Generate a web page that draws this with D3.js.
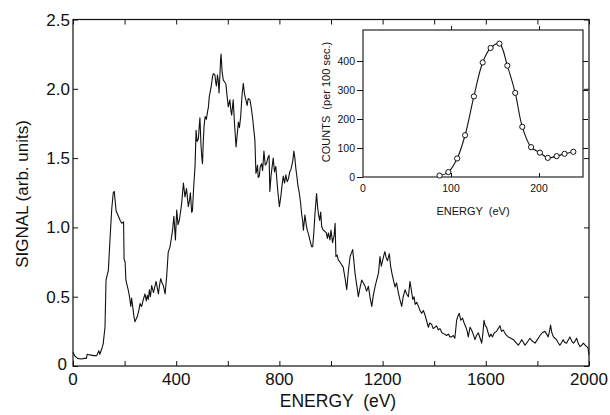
<!DOCTYPE html>
<html>
<head>
<meta charset="utf-8">
<script src="https://cdn.jsdelivr.net/npm/d3@7"></script>
<style>
  body { margin: 0; background: #fff; }
  text { font-family: "Liberation Sans", Arial, sans-serif; fill: #111; white-space: pre; }
</style>
</head>
<body>
<div id="chart"></div>
<script>
const width = 610
const height = 415

// main spectrum
const energy = [0, 8, 18, 30, 45, 52, 55, 65, 80, 92, 100, 104, 110, 117, 124, 128, 137, 143, 150, 156, 160, 164, 167, 176, 183, 189, 196, 198, 202, 205, 210, 214, 219, 224, 227, 230, 236, 240, 249, 255, 260, 266, 272, 279, 284, 288, 292, 296, 300, 305, 312, 317, 322, 327, 331, 336, 340, 345, 350, 357, 363, 369, 376, 381, 386, 391, 397, 402, 407, 412, 416, 421, 428, 434, 440, 447, 452, 455, 460, 463, 468, 473, 477, 481, 486, 489, 492, 496, 499, 502, 505, 508, 512, 517, 521, 525, 528, 531, 536, 541, 544, 550, 553, 556, 560, 563, 566, 569, 572, 574, 578, 583, 588, 593, 597, 602, 608, 612, 615, 621, 626, 632, 637, 641, 645, 650, 655, 660, 665, 670, 675, 679, 686, 692, 697, 701, 705, 709, 712, 715, 718, 722, 726, 731, 735, 740, 745, 750, 755, 760, 763, 768, 772, 776, 781, 786, 792, 796, 800, 806, 810, 815, 820, 825, 830, 835, 840, 845, 852, 856, 860, 864, 867, 872, 877, 882, 886, 890, 893, 899, 904, 908, 913, 918, 925, 929, 933, 938, 944, 948, 951, 956, 960, 964, 970, 977, 982, 986, 990, 996, 1000, 1006, 1012, 1016, 1019, 1024, 1028, 1035, 1041, 1047, 1054, 1061, 1067, 1074, 1080, 1084, 1089, 1093, 1100, 1106, 1112, 1119, 1125, 1132, 1138, 1145, 1151, 1158, 1164, 1171, 1177, 1184, 1190, 1195, 1200, 1205, 1209, 1214, 1219, 1226, 1231, 1236, 1242, 1248, 1254, 1261, 1267, 1274, 1280, 1287, 1293, 1300, 1306, 1312, 1317, 1322, 1326, 1332, 1339, 1345, 1351, 1358, 1364, 1370, 1377, 1383, 1390, 1396, 1403, 1409, 1416, 1422, 1430, 1440, 1448, 1455, 1461, 1467, 1474, 1480, 1487, 1492, 1497, 1503, 1510, 1516, 1523, 1528, 1532, 1539, 1545, 1551, 1558, 1564, 1571, 1578, 1584, 1589, 1593, 1598, 1603, 1609, 1614, 1620, 1626, 1633, 1642, 1648, 1655, 1661, 1668, 1676, 1687, 1697, 1707, 1716, 1726, 1733, 1739, 1746, 1752, 1760, 1771, 1780, 1791, 1800, 1810, 1819, 1829, 1836, 1842, 1848, 1851, 1856, 1862, 1868, 1874, 1880, 1887, 1894, 1900, 1906, 1913, 1920, 1926, 1933, 1940, 1946, 1952, 1959, 1965, 1972, 1978, 1985, 1992, 1996, 2000]
const signal = [0.10, 0.07, 0.055, 0.05, 0.055, 0.055, 0.085, 0.08, 0.075, 0.075, 0.11, 0.085, 0.115, 0.16, 0.28, 0.62, 0.69, 0.90, 1.13, 1.25, 1.26, 1.18, 1.12, 1.08, 1.05, 1.03, 1.04, 0.77, 0.75, 0.62, 0.58, 0.55, 0.50, 0.43, 0.49, 0.45, 0.36, 0.32, 0.355, 0.40, 0.45, 0.43, 0.476, 0.52, 0.47, 0.51, 0.48, 0.55, 0.50, 0.58, 0.53, 0.57, 0.61, 0.56, 0.52, 0.59, 0.63, 0.60, 0.58, 0.52, 0.645, 0.82, 0.86, 0.92, 0.98, 1.08, 0.91, 1.125, 1.02, 1.05, 1.10, 1.17, 1.32, 1.22, 1.28, 1.15, 1.20, 1.25, 1.11, 1.12, 1.30, 1.44, 1.70, 1.62, 1.64, 1.72, 1.79, 1.60, 1.51, 1.46, 1.62, 1.73, 1.80, 1.78, 1.83, 1.87, 1.94, 1.97, 2.02, 2.09, 2.11, 2.10, 2.05, 2.02, 2.10, 2.06, 1.97, 2.08, 2.21, 2.25, 2.12, 2.06, 2.05, 2.03, 1.95, 1.87, 1.92, 1.84, 1.81, 1.92, 1.75, 1.58, 1.68, 1.76, 1.72, 1.80, 1.95, 2.04, 1.96, 1.92, 1.88, 1.93, 1.92, 1.85, 1.775, 1.70, 1.63, 1.39, 1.41, 1.45, 1.36, 1.37, 1.44, 1.46, 1.41, 1.55, 1.45, 1.46, 1.50, 1.52, 1.26, 1.38, 1.44, 1.50, 1.40, 1.44, 1.30, 1.22, 1.15, 1.23, 1.30, 1.37, 1.32, 1.38, 1.33, 1.35, 1.40, 1.42, 1.48, 1.55, 1.50, 1.42, 1.38, 1.30, 1.25, 1.18, 1.10, 1.05, 0.98, 1.09, 1.02, 0.98, 0.95, 0.91, 0.86, 0.86, 0.95, 1.10, 1.245, 1.15, 1.10, 1.05, 1.11, 1.005, 0.98, 0.97, 0.96, 0.92, 0.96, 0.91, 0.98, 0.89, 0.94, 1.03, 0.79, 0.80, 0.765, 0.75, 0.73, 0.715, 0.64, 0.55, 0.68, 0.79, 0.82, 0.84, 0.75, 0.67, 0.58, 0.50, 0.56, 0.62, 0.60, 0.575, 0.54, 0.575, 0.50, 0.43, 0.51, 0.575, 0.62, 0.67, 0.79, 0.72, 0.76, 0.80, 0.825, 0.78, 0.76, 0.81, 0.72, 0.67, 0.62, 0.57, 0.60, 0.53, 0.48, 0.43, 0.50, 0.55, 0.52, 0.50, 0.61, 0.54, 0.48, 0.50, 0.445, 0.46, 0.43, 0.40, 0.38, 0.40, 0.37, 0.33, 0.28, 0.31, 0.30, 0.27, 0.28, 0.29, 0.26, 0.27, 0.24, 0.23, 0.22, 0.23, 0.21, 0.21, 0.22, 0.20, 0.33, 0.36, 0.38, 0.33, 0.345, 0.31, 0.28, 0.25, 0.21, 0.28, 0.26, 0.23, 0.19, 0.22, 0.24, 0.20, 0.165, 0.24, 0.33, 0.29, 0.28, 0.24, 0.21, 0.23, 0.21, 0.24, 0.25, 0.27, 0.29, 0.25, 0.26, 0.23, 0.21, 0.20, 0.19, 0.17, 0.15, 0.17, 0.19, 0.17, 0.15, 0.17, 0.20, 0.18, 0.165, 0.19, 0.22, 0.24, 0.25, 0.23, 0.21, 0.26, 0.295, 0.24, 0.21, 0.20, 0.19, 0.17, 0.15, 0.17, 0.19, 0.17, 0.165, 0.19, 0.21, 0.18, 0.165, 0.18, 0.20, 0.16, 0.14, 0.15, 0.165, 0.15, 0.14, 0.13, 0.08]

const xTicks = [0, 400, 800, 1200, 1600, 2000]
const yTicks = [0, 0.5, 1.0, 1.5, 2.0, 2.5]

// inset: counts vs energy
const insetEnergy = [87, 97, 107, 116, 126, 136, 145, 155, 164, 173, 181, 191, 201, 210, 220, 229, 239]
const insetCounts = [5, 17, 64, 144, 278, 395, 445, 460, 384, 290, 173, 103, 84, 66, 72, 80, 87]
const insetXTicks = [0, 100, 200]
const insetYTicks = [0, 100, 200, 300, 400]

const svg = d3.select("#chart")
    .append("svg")
    .attr("width", width)
    .attr("height", height)

const pLeft = 73, pRight = 589, pTop = 19.5, pBottom = 366

const x = d3.scaleLinear().domain([0, 2000]).range([pLeft, pRight])
const y = d3.scaleLinear().domain([0, 2.5]).range([pBottom, pTop])

// frame
svg.append("rect")
    .attr("x", pLeft).attr("y", pTop)
    .attr("width", pRight - pLeft).attr("height", pBottom - pTop)
    .attr("fill", "none").attr("stroke", "#111").attr("stroke-width", 1.2)

// inward ticks on all four sides
const minor = d3.range(0, 2001, 200)
svg.append("g").attr("transform", `translate(0,${pBottom})`)
    .call(d3.axisBottom(x).tickValues(minor).tickSizeInner(-5).tickSizeOuter(0).tickFormat(""))
svg.append("g").attr("transform", `translate(0,${pTop})`)
    .call(d3.axisTop(x).tickValues(minor).tickSizeInner(-5).tickSizeOuter(0).tickFormat(""))
svg.append("g").attr("transform", `translate(${pLeft},0)`)
    .call(d3.axisLeft(y).tickValues(yTicks).tickSizeInner(-5).tickSizeOuter(0).tickFormat(""))
svg.append("g").attr("transform", `translate(${pRight},0)`)
    .call(d3.axisRight(y).tickValues(yTicks).tickSizeInner(-5).tickSizeOuter(0).tickFormat(""))
svg.selectAll(".domain").remove()
svg.selectAll(".tick line").attr("stroke", "#111").attr("stroke-width", 1)

// tick labels
svg.append("g").selectAll("text")
    .data(xTicks)
    .enter().append("text")
    .attr("x", d => x(d))
    .attr("y", pBottom + 19)
    .attr("text-anchor", "middle")
    .attr("font-size", 17)
    .text(d => d)

svg.append("g").selectAll("text")
    .data(yTicks)
    .enter().append("text")
    .attr("x", d => d === 0 ? pLeft - 6 : pLeft - 3)
    .attr("y", d => y(d) + (d === 0 ? 4 : 6))
    .attr("text-anchor", "end")
    .attr("font-size", 17)
    .text(d => d === 0 ? "0" : d.toFixed(1))

svg.append("text")
    .attr("x", 338).attr("y", 407)
    .attr("text-anchor", "middle")
    .attr("font-size", 17.5)
    .text("ENERGY  (eV)")

svg.append("text")
    .attr("transform", `translate(28,194) rotate(-90)`)
    .attr("text-anchor", "middle")
    .attr("font-size", 17)
    .text("SIGNAL (arb. units)")

// spectrum line
const line = d3.line()
    .x((d, i) => x(energy[i]))
    .y(d => y(d))

svg.append("path")
    .datum(signal)
    .attr("d", line)
    .attr("fill", "none")
    .attr("stroke", "#111")
    .attr("stroke-width", 1.1)
    .attr("stroke-linejoin", "round")

// ---- inset ----
const iLeft = 363, iRight = 583, iTop = 30, iBottom = 177
const ix = d3.scaleLinear().domain([0, 250]).range([iLeft, iRight])
const iy = d3.scaleLinear().domain([0, 507]).range([iBottom, iTop])

const inset = svg.append("g")

inset.append("rect")
    .attr("x", iLeft).attr("y", iTop)
    .attr("width", iRight - iLeft).attr("height", iBottom - iTop)
    .attr("fill", "#fff").attr("stroke", "#111").attr("stroke-width", 1.1)

inset.append("g").attr("transform", `translate(${iLeft},0)`)
    .call(d3.axisLeft(iy).tickValues(insetYTicks).tickSize(6).tickFormat(""))
inset.append("g").attr("transform", `translate(${iRight},0)`)
    .call(d3.axisRight(iy).tickValues([100, 200, 300, 400]).tickSize(5).tickFormat(""))
inset.append("g").attr("transform", `translate(0,${iBottom})`)
    .call(d3.axisBottom(ix).tickValues([100, 200]).tickSizeInner(-4).tickSizeOuter(0).tickFormat(""))
inset.append("g").attr("transform", `translate(0,${iTop})`)
    .call(d3.axisTop(ix).tickValues([100, 200]).tickSize(4).tickFormat(""))
inset.selectAll(".domain").remove()
inset.selectAll(".tick line").attr("stroke", "#111")

inset.append("g").selectAll("text")
    .data(insetYTicks)
    .enter().append("text")
    .attr("x", iLeft - 8)
    .attr("y", d => iy(d) + 4)
    .attr("text-anchor", "end")
    .attr("font-size", 10.5)
    .text(d => d)

inset.append("g").selectAll("text")
    .data(insetXTicks)
    .enter().append("text")
    .attr("x", d => ix(d))
    .attr("y", iBottom + 15)
    .attr("text-anchor", "middle")
    .attr("font-size", 10.5)
    .text(d => d)

inset.append("text")
    .attr("x", (iLeft + iRight) / 2).attr("y", 215)
    .attr("text-anchor", "middle")
    .attr("font-size", 11)
    .text("ENERGY  (eV)")

inset.append("text")
    .attr("transform", `translate(330,102) rotate(-90)`)
    .attr("text-anchor", "middle")
    .attr("font-size", 11)
    .text("COUNTS  (per 100 sec.)")

const iline = d3.line()
    .x((d, i) => ix(insetEnergy[i]))
    .y(d => iy(d))
    .curve(d3.curveCatmullRom)

inset.append("path")
    .datum(insetCounts)
    .attr("d", iline)
    .attr("fill", "none")
    .attr("stroke", "#111")
    .attr("stroke-width", 1.1)

inset.append("g").selectAll("circle")
    .data(insetCounts)
    .enter().append("circle")
    .attr("cx", (d, i) => ix(insetEnergy[i]))
    .attr("cy", d => iy(d))
    .attr("r", 2.6)
    .attr("fill", "#fff")
    .attr("stroke", "#111")
    .attr("stroke-width", 1)
</script>
</body>
</html>
